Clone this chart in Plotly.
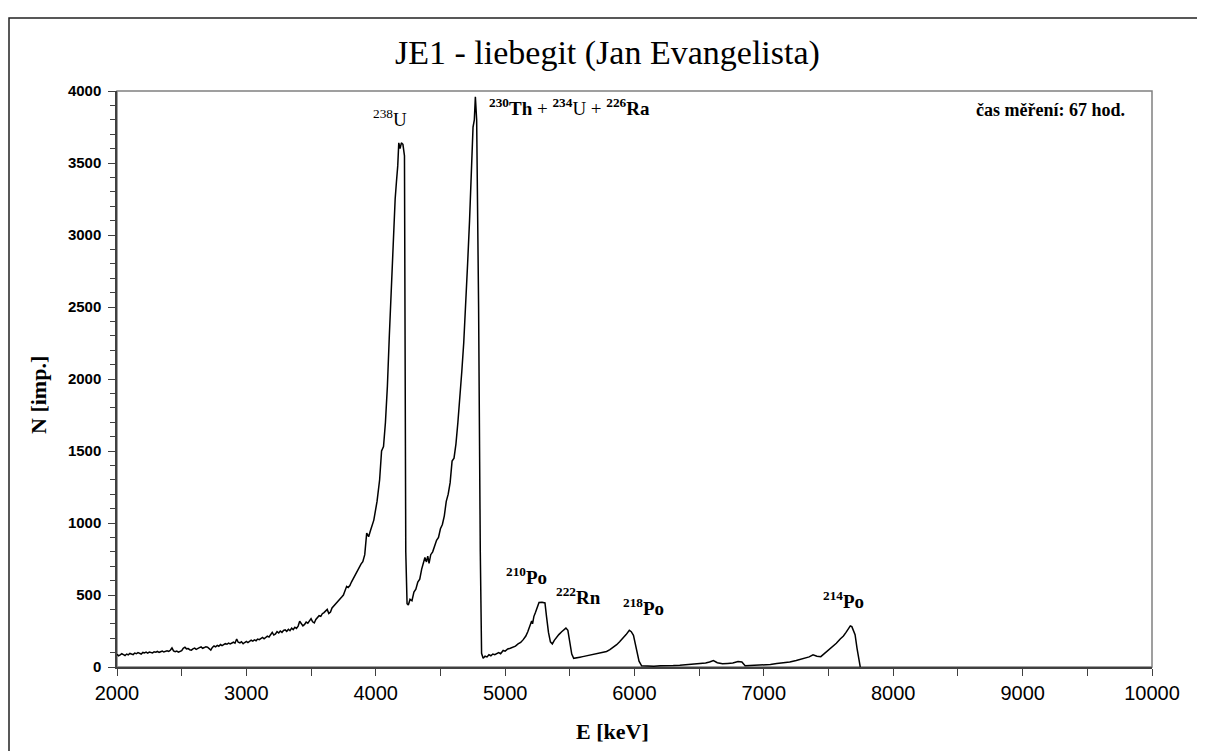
import plotly.graph_objects as go

# ---------------- data ----------------
energy_kev = [
    2000, 2012, 2025, 2037, 2050, 2062, 2075, 2087, 2100, 2112, 2125, 2137, 2150, 2162, 2175, 2187,
    2200, 2212, 2225, 2237, 2250, 2262, 2275, 2287, 2300, 2312, 2325, 2337, 2350, 2362, 2375, 2387,
    2400, 2412, 2425, 2437, 2450, 2462, 2475, 2487, 2500, 2512, 2525, 2537, 2550, 2562, 2575, 2587,
    2600, 2612, 2625, 2637, 2650, 2662, 2675, 2687, 2700, 2712, 2725, 2737, 2750, 2762, 2775, 2787,
    2800, 2812, 2825, 2837, 2850, 2862, 2875, 2887, 2900, 2912, 2925, 2937, 2950, 2962, 2975, 2987,
    3000, 3012, 3025, 3037, 3050, 3062, 3075, 3087, 3100, 3112, 3125, 3137, 3150, 3162, 3175, 3187,
    3200, 3212, 3225, 3237, 3250, 3262, 3275, 3287, 3300, 3312, 3325, 3337, 3350, 3362, 3375, 3387,
    3400, 3412, 3425, 3437, 3450, 3462, 3475, 3487, 3500, 3512, 3525, 3537, 3550, 3562, 3575, 3587,
    3600, 3612, 3625, 3637, 3650, 3662, 3675, 3687, 3700, 3712, 3725, 3737, 3750, 3762, 3775, 3787,
    3800, 3812, 3825, 3837, 3850, 3862, 3875, 3887, 3900, 3915, 3930, 3945,
    3960, 3985, 4010, 4030, 4045, 4060, 4075, 4090, 4105, 4120, 4135, 4150, 4160, 4170, 4178, 4188,
    4198, 4210, 4222, 4232, 4242, 4252, 4265, 4280, 4295, 4310, 4325, 4340, 4355, 4370, 4380, 4392,
    4402, 4412, 4425, 4440, 4455, 4470, 4485, 4500, 4515, 4530, 4545, 4560, 4575, 4590, 4605, 4620,
    4635, 4650, 4665, 4680, 4695, 4710, 4725, 4740, 4752, 4762, 4770, 4780, 4795, 4808, 4818, 4830,
    4845, 4860, 4875, 4890, 4905, 4920, 4935, 4950, 4965, 4985, 5000, 5020, 5040, 5063, 5080, 5100,
    5120, 5140, 5160, 5175, 5192, 5205, 5212, 5222, 5235, 5248, 5262, 5285, 5308, 5320, 5335, 5350,
    5365, 5380, 5398, 5415, 5437, 5455, 5470, 5485, 5500, 5515, 5530, 5550, 5578, 5600, 5630, 5660,
    5690, 5720, 5750, 5784, 5810, 5840, 5862, 5885, 5913, 5935, 5960, 5975, 5992, 6005, 6018, 6035,
    6055, 6100, 6150, 6200, 6250, 6300, 6350, 6400, 6450, 6500, 6550, 6580, 6610, 6640, 6680, 6720,
    6760, 6800, 6830, 6855, 6900, 6950, 7000, 7050, 7100, 7150, 7200, 7250, 7300, 7350, 7380, 7410,
    7440, 7470, 7500, 7530, 7560, 7590, 7615, 7635, 7652, 7668, 7680, 7692, 7705, 7720, 7735, 7745,
]
counts = [
    88, 78, 84, 92, 86, 80, 90, 84, 94, 88, 86, 97, 92, 100, 94, 90,
    101, 97, 103, 96, 104, 100, 98, 106, 103, 108, 101, 106, 111, 104, 108, 112,
    108, 116, 132, 112, 106, 110, 103, 108, 114, 130, 138, 126, 128, 120, 117, 126,
    131, 122, 126, 134, 140, 130, 135, 141, 138, 125, 117, 136, 146, 140, 150, 144,
    156, 148, 154, 162, 158, 166, 160, 168, 172, 165, 194, 172, 168, 176, 162, 170,
    178, 170, 176, 186, 180, 188, 182, 194, 190, 200, 206, 196, 204, 214, 208, 226,
    240, 222, 230, 246, 236, 250, 240, 254, 258, 248, 262, 252, 270, 260, 276, 268,
    284, 318, 300, 286, 296, 312, 304, 318, 336, 314, 306, 330, 342, 356, 352, 370,
    378, 392, 400, 372, 382, 410, 422, 436, 446, 462, 474, 486, 500, 536, 560, 552,
    566, 590, 612, 634, 652, 676, 702, 716, 732, 780, 930, 905,
    950, 1020, 1150, 1300, 1500, 1530, 1700, 1950, 2300, 2650, 2950, 3250, 3370, 3480, 3640, 3600,
    3640, 3630, 3550, 800, 440, 430, 470, 460, 520, 540, 590, 610, 680, 740, 760, 730,
    770, 720, 780, 800, 850, 880, 900, 960, 990, 1050, 1150, 1200, 1280, 1430, 1450, 1550,
    1700, 1850, 2050, 2250, 2500, 2800, 3100, 3450, 3750, 3800, 3960, 3800, 2500, 800, 95, 60,
    75, 70, 85, 78, 90, 85, 95, 100, 92, 115, 110, 125, 130, 140, 145, 160,
    170, 190, 215, 245, 280, 320, 300, 350, 380, 410, 448, 450, 445, 350, 240, 175,
    160, 185, 210, 225, 245, 258, 270, 255, 180, 90, 60, 65, 68, 72, 78, 82,
    88, 92, 100, 108, 120, 138, 155, 175, 200, 225, 255, 245, 220, 170, 110, 40,
    8, 5, 6, 8, 7, 10, 12, 15, 18, 22, 28, 35, 45, 30, 22, 25,
    28, 38, 35, 8, 10, 12, 15, 18, 24, 28, 35, 45, 55, 70, 85, 75,
    72, 95, 115, 140, 165, 195, 215, 240, 265, 285, 280, 255, 225, 130, 40, 0,
]

x_tick_vals = [2000, 3000, 4000, 5000, 6000, 7000, 8000, 9000, 10000]
x_tick_text = ["2000", "3000", "4000", "5000", "6000", "7000", "8000", "9000", "10000"]
y_tick_vals = [0, 500, 1000, 1500, 2000, 2500, 3000, 3500, 4000]

peak_labels = [
    "<sup>238</sup>U",
    "<sup><b>230</b></sup><b>Th</b> + <sup><b>234</b></sup>U + <sup><b>226</b></sup><b>Ra</b>",
    "<b><sup>210</sup>Po</b>",
    "<b><sup>222</sup>Rn</b>",
    "<b><sup>218</sup>Po</b>",
    "<b><sup>214</sup>Po</b>",
]
peak_label_x = [4110, 4859, 5165, 5570, 6069, 7614]
peak_label_y = [3812, 3892, 630, 490, 414, 463]
peak_label_anchor = ["center", "left", "center", "center", "center", "center"]

title_text = "JE1 - liebegit (Jan Evangelista)"
x_title = "E [keV]"
y_title = "N [imp.]"
time_note = "čas měření: 67 hod."

# ---------------- figure ----------------
OFF = 8                      # page body margin of the browser
W, H = 1205 - OFF, 751 - OFF
L, R, T, B = 117, 1152, 91, 667   # plot area in page pixels

def px_x(p):
    return (p - L) / (R - L)

def px_y(p):
    return (B - p) / (B - T)

fig = go.Figure()
fig.add_trace(go.Scatter(
    x=energy_kev, y=counts, mode="lines",
    line=dict(color="black", width=1.5),
    showlegend=False, hoverinfo="x+y",
))

serif = "Liberation Serif, Times New Roman, serif"
sans = "Liberation Sans, Arial, sans-serif"

annotations = []
for txt, xv, yv, anc in zip(peak_labels, peak_label_x, peak_label_y, peak_label_anchor):
    annotations.append(dict(
        x=xv, y=yv, xref="x", yref="y", text=txt, showarrow=False,
        xanchor=anc, yanchor="middle",
        font=dict(family=serif, size=19, color="black"),
    ))

annotations.append(dict(
    x=9218, y=3868, xref="x", yref="y", text="<b>" + time_note + "</b>",
    showarrow=False, xanchor="center", yanchor="middle",
    font=dict(family=serif, size=18, color="black"),
))
annotations.append(dict(
    x=px_x(607), y=px_y(53), xref="paper", yref="paper", text=title_text,
    showarrow=False, xanchor="center", yanchor="middle",
    font=dict(family=serif, size=34, color="black"),
))
annotations.append(dict(
    x=px_x(612), y=px_y(731), xref="paper", yref="paper", text="<b>" + x_title + "</b>",
    showarrow=False, xanchor="center", yanchor="middle",
    font=dict(family=serif, size=22, color="black"),
))
annotations.append(dict(
    x=px_x(38), y=px_y(395), xref="paper", yref="paper", text="<b>" + y_title + "</b>",
    showarrow=False, xanchor="center", yanchor="middle", textangle=-90,
    font=dict(family=serif, size=22, color="black"),
))

shapes = [
    # plot-area frame (gray)
    dict(type="rect", xref="paper", yref="paper", x0=0, x1=1, y0=0, y1=1,
         line=dict(color="#808080", width=1.5), layer="below"),
    # chart-area outer border
    dict(type="rect", xref="paper", yref="paper",
         x0=px_x(9), x1=px_x(1201), y0=px_y(790), y1=px_y(18),
         line=dict(color="#222222", width=1.5), layer="below"),
]

fig.update_layout(
    width=W, height=H,
    margin=dict(l=L - OFF, r=(W + OFF) - R, t=T - OFF, b=(H + OFF) - B),
    paper_bgcolor="white", plot_bgcolor="white",
    annotations=annotations, shapes=shapes,
    xaxis=dict(
        range=[2000, 10000], tickvals=x_tick_vals, ticktext=x_tick_text,
        showgrid=False, zeroline=False, showline=True, linecolor="#404040", linewidth=1.5,
        ticks="outside", ticklen=7, tickcolor="#404040", tickwidth=1.2,
        minor=dict(dtick=500, ticks="outside", ticklen=7, tickcolor="#404040", tickwidth=1.2),
        tickfont=dict(family=sans, size=20, color="black"),
    ),
    yaxis=dict(
        range=[0, 4000], tickvals=y_tick_vals,
        showgrid=False, zeroline=False, showline=True, linecolor="#404040", linewidth=1.5,
        ticks="outside", ticklen=7, tickcolor="#404040", tickwidth=1.2,
        minor=dict(dtick=100, ticks="outside", ticklen=5, tickcolor="#404040", tickwidth=1),
        tickfont=dict(family=sans, size=15, color="black", weight="bold"),
        ticklabelstandoff=4,
    ),
)

fig.write_html("out.html")
